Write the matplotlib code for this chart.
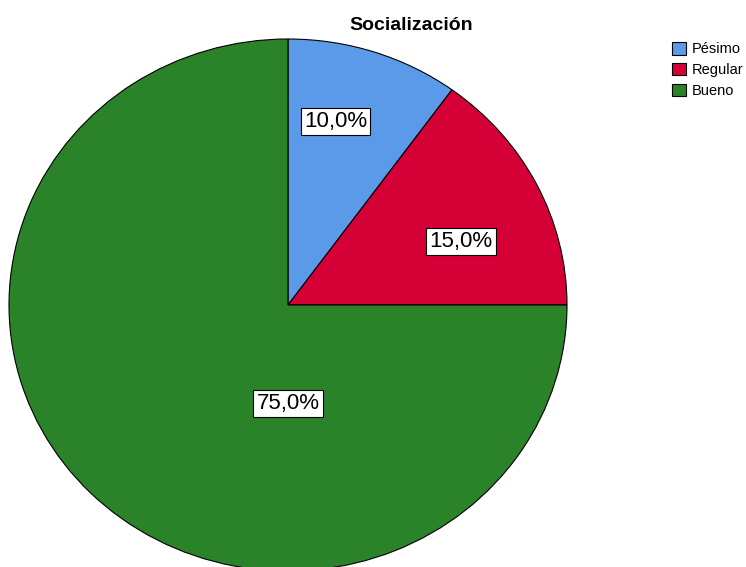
import matplotlib
matplotlib.use('Agg')
import matplotlib.pyplot as plt

plt.rcParams['font.family'] = ['Liberation Sans', 'DejaVu Sans']

# data
categories = ['Pésimo', 'Regular', 'Bueno']
values = [10.0, 15.0, 75.0]
colors = ['#5A9AE8', '#D40036', '#2A8229']
label_pos = [(0.17, 0.69), (0.62, 0.24), (0.0, -0.37)]

fig = plt.figure(figsize=(7.46, 5.67), dpi=100)
ax = fig.add_axes([9 / 746, -4 / 567, 558 / 746, 532 / 567])

wedges, texts, autotexts = ax.pie(
    values, colors=colors, startangle=90, counterclock=False,
    autopct=lambda p: f'{p:.1f}%'.replace('.', ','),
    wedgeprops=dict(edgecolor='black', linewidth=0.8),
    textprops=dict(fontsize=16, color='black'))

for t, pos in zip(autotexts, label_pos):
    t.set_position(pos)
    t.set_bbox(dict(facecolor='white', edgecolor='black', linewidth=0.8, pad=2.2))

ax.set_aspect('auto')
ax.set_xlim(-1, 1)
ax.set_ylim(-1, 1)

fig.text(411 / 746, 1 - 25 / 567, 'Socialización', ha='center', va='center',
         fontsize=14, fontweight='bold')

leg = fig.legend(wedges, categories, loc='upper left',
                 bbox_to_anchor=(672 / 746, 1 - 42 / 567),
                 frameon=False, fontsize=10.5, handlelength=0.95, handleheight=0.95,
                 handletextpad=0.4, labelspacing=0.45, borderpad=0, borderaxespad=0)

plt.savefig('out.png', dpi=100)
